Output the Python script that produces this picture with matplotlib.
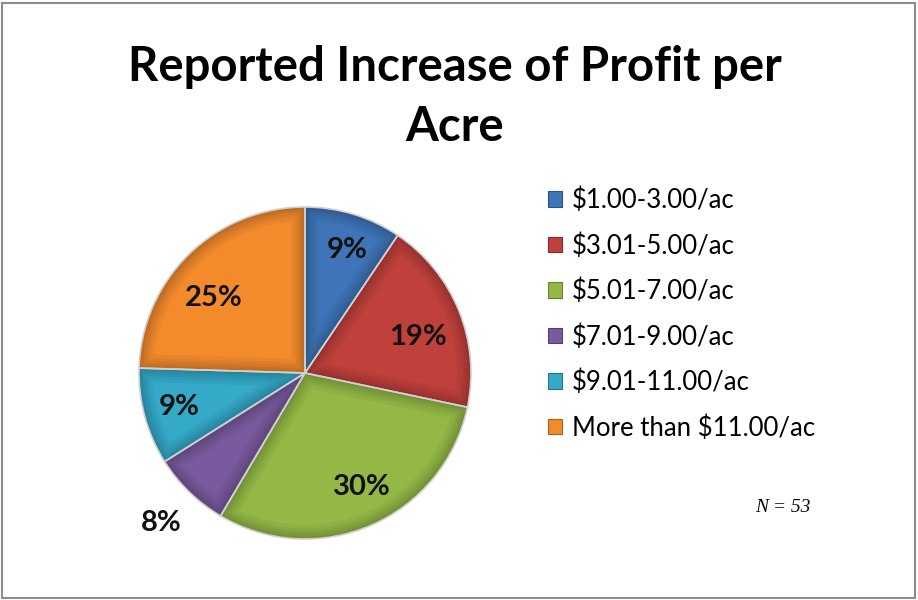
import matplotlib
matplotlib.use("Agg")
import matplotlib.pyplot as plt
from matplotlib.patches import Rectangle, Patch, Wedge
import matplotlib.colors as mcolors

categories = ["$1.00-3.00/ac", "$3.01-5.00/ac", "$5.01-7.00/ac",
              "$7.01-9.00/ac", "$9.01-11.00/ac", "More than $11.00/ac"]
counts = [5, 10, 16, 4, 5, 13]
pct_labels = ["9%", "19%", "30%", "8%", "9%", "25%"]
colors = ["#3F75B8", "#C0403C", "#93B846", "#7A5A9E", "#35A9C8", "#F38A2C"]
title = "Reported Increase of Profit per\nAcre"
note = "N = 53"

W, H = 918, 600
fig = plt.figure(figsize=(W / 100, H / 100), dpi=100)
ax = fig.add_axes([0, 0, 1, 1])

cx, cy, r = 305, H - 373, 166
wedges, texts = ax.pie(counts, colors=colors, startangle=90, counterclock=False,
                       center=(cx, cy), radius=r, frame=True,
                       wedgeprops=dict(edgecolor="none", linewidth=0))
ax.set_xlim(0, W)
ax.set_ylim(0, H)
ax.set_aspect("equal")
ax.axis("off")


def darker(c, f):
    rgb = mcolors.to_rgb(c)
    return tuple(v * f for v in rgb)


# soft bevel: stacked translucent dark rims clipped to each wedge
for w, c in zip(wedges, colors):
    z = w.get_zorder()
    for k, lw in enumerate([20, 15, 11, 7, 4]):
        rim = Wedge(w.center, w.r, w.theta1, w.theta2, facecolor="none",
                    edgecolor=(0, 0, 0, 0.045), linewidth=lw,
                    zorder=z + 0.01 * (k + 1))
        ax.add_patch(rim)
        rim.set_clip_path(w)
    sep = Wedge(w.center, w.r, w.theta1, w.theta2, facecolor="none",
                edgecolor="#d0d0d0", linewidth=1.2, zorder=z + 0.2)
    ax.add_patch(sep)

# labels
label_pos = [(347, 250), (418, 337), (362, 487), (161, 523), (179, 407), (214, 298)]
for (x, y), t in zip(label_pos, pct_labels):
    ax.text(x, H - y, t, ha="center", va="center", fontsize=21,
            fontweight="bold", family="Lato", color="#111111", zorder=5)

fig.text(455 / W, 1 - 97 / H, title, ha="center", va="center", fontsize=34,
         fontweight="bold", family="Lato", linespacing=1.45)

handles = [Patch(facecolor=c, edgecolor=darker(c, 0.7), linewidth=0.8) for c in colors]
leg = ax.legend(handles, categories, loc="upper left",
                bbox_to_anchor=(527 / W, 1 - 167 / H), frameon=False,
                prop=dict(family="Lato", size=18.5), handlelength=0.55,
                handleheight=0.55, handletextpad=0.4, labelspacing=0.78,
                borderpad=0.3)

fig.text(783 / W, 1 - 507 / H, note, ha="center", va="center", fontsize=14,
         family="Liberation Serif", style="italic")

fig.patches.append(Rectangle((2 / W, 2 / H), (W - 5) / W, (H - 5) / H,
                             transform=fig.transFigure, fill=False,
                             edgecolor="#8c8c8c", linewidth=1.5))

fig.savefig("out.png", dpi=100, facecolor="white")
